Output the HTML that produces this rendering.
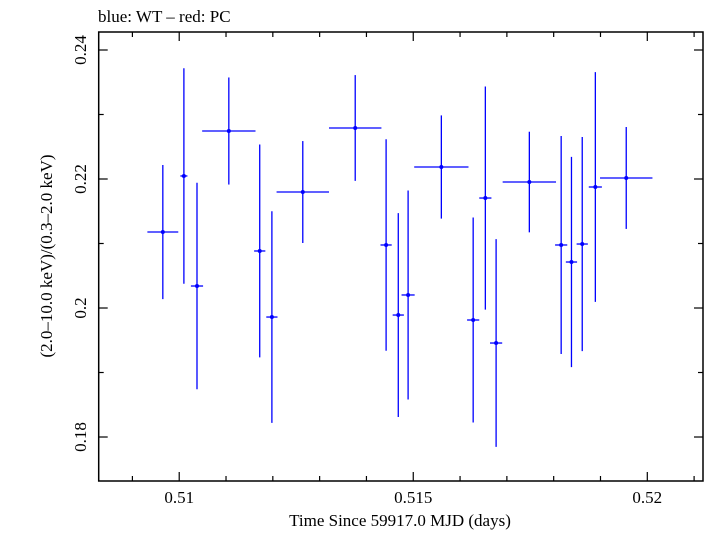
<!DOCTYPE html>
<html><head><meta charset="utf-8"><style>
body{margin:0;background:#fff}
svg text{font-family:"Liberation Serif",serif;fill:#000}
</style></head><body>
<svg width="705" height="532" xmlns="http://www.w3.org/2000/svg">
<text x="98" y="22" font-size="17">blue: WT – red: PC</text>
<rect x="98.7" y="32" width="604.3" height="449" fill="none" stroke="#000" stroke-width="1.5"/>
<g id="ticks"></g>
<g id="marks"></g>
<text x="400" y="526" font-size="17" text-anchor="middle">Time Since 59917.0 MJD (days)</text>
<text transform="translate(52,256) rotate(-90)" font-size="17" text-anchor="middle">(2.0–10.0 keV)/(0.3–2.0 keV)</text>
</svg>
<script>
const xVals=[0.50965,0.51010,0.51038,0.51106,0.51172,0.51198,0.51264,0.51376,0.51442,0.51468,0.51489,0.51560,0.51628,0.51654,0.51677,0.51748,0.51816,0.51838,0.51861,0.51889,0.51955];
const xErr=[0.00033,0.000075,0.00013,0.00057,0.00012,0.00012,0.00056,0.00056,0.00012,0.00012,0.00014,0.00058,0.00013,0.00013,0.00013,0.00057,0.00013,0.00012,0.00012,0.00014,0.00056];
const yVals=[0.21178,0.22047,0.20341,0.22744,0.20884,0.19860,0.21798,0.22791,0.20977,0.19891,0.20202,0.22186,0.19814,0.21705,0.19457,0.21953,0.20977,0.20713,0.20992,0.21876,0.22016];
const yErr=[0.0104,0.0167,0.0160,0.0083,0.0165,0.0164,0.0079,0.0082,0.0164,0.0158,0.0162,0.0080,0.0159,0.0173,0.0161,0.0078,0.0169,0.0163,0.0166,0.0178,0.0079];
const xTicks=[0.51,0.515,0.52];
const xTickLabels=["0.51","0.515","0.52"];
const yTicks=[0.18,0.2,0.22,0.24];
const yTickLabels=["0.18","0.2","0.22","0.24"];
const X0=98.7,X1=703,Y0=481,Y1=32;
const xMin=0.50828,xMax=0.52119,yMin=0.17318,yMax=0.24279;
const sx=v=>X0+(v-xMin)/(xMax-xMin)*(X1-X0);
const sy=v=>Y0-(v-yMin)/(yMax-yMin)*(Y0-Y1);
const NS="http://www.w3.org/2000/svg";
function mk(tag,attrs,parent){const e=document.createElementNS(NS,tag);for(const k in attrs)e.setAttribute(k,attrs[k]);parent.appendChild(e);return e;}
const tg=document.getElementById('ticks'),mg=document.getElementById('marks');
for(let i=0;i<=13;i++){const v=0.509+i*0.001;if(v>xMax)break;const x=sx(v);const major=Math.abs((v*1000)%5)<1e-6||Math.abs((v*1000)%5-5)<1e-6;const L=major?9:5;
const t1=mk('line',{x1:x,x2:x,y1:Y0,y2:Y0-L,stroke:'#000','stroke-width':1.2},tg);


const t2=mk('line',{x1:x,x2:x,y1:Y1,y2:Y1+L,stroke:'#000','stroke-width':1.2},tg);

}
xTicks.forEach((v,i)=>{const t=mk('text',{x:sx(v),y:503,'font-size':17,'text-anchor':'middle'},tg);t.textContent=xTickLabels[i];

});
for(let i=0;i<8;i++){const v=0.17+i*0.01;if(v<yMin||v>yMax)continue;const y=sy(v);const major=i%2===1;const L=major?9:5;
const t1=mk('line',{x1:X0,x2:X0+L,y1:y,y2:y,stroke:'#000','stroke-width':1.2},tg);


const t2=mk('line',{x1:X1,x2:X1-L,y1:y,y2:y,stroke:'#000','stroke-width':1.2},tg);

}
yTicks.forEach((v,i)=>{const t=mk('text',{transform:`translate(86,${sy(v)}) rotate(-90)`,'font-size':17,'text-anchor':'middle'},tg);t.textContent=yTickLabels[i];

});
xVals.forEach((xv,i)=>{const g=mk('g',{},mg);


const cx=sx(xv),cy=sy(yVals[i]);
mk('line',{x1:sx(xv-xErr[i]),x2:sx(xv+xErr[i]),y1:cy,y2:cy,stroke:'#0000ff','stroke-width':1.3},g);
mk('line',{x1:cx,x2:cx,y1:sy(yVals[i]-yErr[i]),y2:sy(yVals[i]+yErr[i]),stroke:'#0000ff','stroke-width':1.3},g);
mk('circle',{cx:cx,cy:cy,r:2,fill:'#0000ff'},g);});
</script>
</body></html>
